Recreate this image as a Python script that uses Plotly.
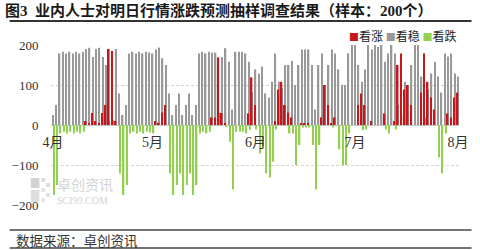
import plotly.graph_objects as go
import pandas as pd

# ---- data (one value per calendar day, 2023-04-01 .. 2023-08-01) ----
dates = pd.date_range("2023-04-01", periods=123, freq="D")

kan_wen = [  # 看稳 (gray)
    25, 50, 179, 183, 179, 183, 179, 183, 179, 183,
    190, 193, 170, 190, 193, 170, 150, 10, 12, 190,
    79, 25, 50, 179, 183, 179, 183, 179, 183, 181,
    179, 189, 194, 167, 150, 79, 25, 50, 79, 25,
    50, 79, 25, 50, 179, 183, 179, 183, 181, 181,
    31, 170, 192, 158, 39, 183, 183, 183, 179, 158,
    81, 139, 129, 146, 79, 69, 108, 179, 108, 92,
    150, 150, 160, 100, 150, 189, 189, 189, 150, 39,
    150, 179, 100, 150, 189, 179, 139, 100, 100, 179,
    200, 200, 150, 108, 139, 200, 189, 200, 195, 200,
    158, 179, 200, 179, 50, 21, 108, 100, 150, 200,
    200, 121, 19, 89, 129, 158, 121, 81, 179, 171,
    179, 129, 121,
]
kan_zhang = [  # 看涨 (red)
    0, 0, 0, 0, 0, 0, 0, 0, 0, 0,
    10, 5, 30, 10, 5, 30, 50, 190, 185, 10,
    0, 0, 0, 0, 0, 0, 0, 0, 0, 0,
    0, 10, 6, 31, 50, 0, 0, 0, 0, 0,
    0, 0, 0, 0, 0, 0, 0, 0, 19, 19,
    169, 30, 4, 0, 0, 0, 0, 0, 0, 29,
    119, 50, 0, 0, 0, 0, 0, 10, 89, 108,
    50, 31, 19, 0, 0, 4, 4, 4, 0, 0,
    0, 19, 100, 50, 4, 19, 0, 0, 0, 0,
    0, 0, 50, 79, 50, 0, 10, 0, 0, 0,
    29, 0, 0, 10, 150, 179, 89, 100, 50, 0,
    0, 81, 179, 108, 69, 39, 0, 0, 0, 29,
    19, 69, 81,
]
kan_die = [  # 看跌 (green, negative)
    -175, -150, -21, -17, -21, -17, -21, -17, -21, -17,
    0, 0, 0, 0, 0, 0, 0, 0, 0, 0,
    -121, -175, -150, -21, -17, -21, -17, -21, -17, -19,
    -21, 0, 0, 0, 0, -121, -175, -150, -121, -175,
    -150, -121, -175, -150, -21, -17, -21, -17, 0, 0,
    0, 0, -5, -42, -161, -17, -17, -17, -21, -12,
    0, -11, -71, -54, -121, -131, -92, -11, 0, 0,
    0, -21, -21, -100, -50, -6, -6, -6, -50, -161,
    -50, 0, 0, 0, -6, 0, -61, -100, -100, -21,
    0, 0, 0, -13, -11, 0, 0, 0, 0, 0,
    -11, -21, 0, -11, 0, 0, 0, 0, 0, 0,
    0, 0, 0, 0, 0, 0, -81, -121, -21, 0,
    0, 0, 0,
]
month_ticks = ["2023-04-01", "2023-05-01", "2023-06-01", "2023-07-01", "2023-08-01"]
month_labels = ["4月", "5月", "6月", "7月", "8月"]
y_ticks = [-200, -100, 0, 100, 200]

RED = "#C8161D"
GRAY = "#999999"
GREEN = "#92D050"
DAY = 86400000

CJK = "Noto Sans CJK SC"
SERIF = "Liberation Serif, Noto Sans CJK SC"

fig = go.Figure()
fig.add_bar(x=dates, y=kan_wen, name="看稳", marker_color=GRAY, marker_line_width=0,
            width=0.42 * DAY, offset=-0.21 * DAY)
fig.add_bar(x=dates, y=kan_zhang, name="看涨", marker_color=RED, marker_line_width=0,
            width=0.48 * DAY, offset=-0.42 * DAY)
fig.add_bar(x=dates, y=kan_die, name="看跌", marker_color=GREEN, marker_line_width=0,
            width=0.42 * DAY, offset=0.08 * DAY)

L, R, T, B = 43, 13, 45, 45
W, H = 480 - L - R, 250 - T - B


def px(xp):
    return (xp - L) / W


def py(yp):
    return (250 - B - yp) / H


shapes = [
    dict(type="line", xref="paper", yref="paper", x0=px(0), x1=px(480), y0=py(21), y1=py(21),
         line=dict(color="#333333", width=2)),
    dict(type="line", xref="paper", yref="paper", x0=px(0), x1=px(480), y0=py(230), y1=py(230),
         line=dict(color="#444444", width=1.3)),
    dict(type="line", xref="paper", yref="paper", x0=px(0), x1=px(480), y0=py(248), y1=py(248),
         line=dict(color="#444444", width=1.3)),
]
# watermark logo blocks
for (x0, y0, x1, y1, c) in [(22, 178, 31, 188, "#d2d2d2"), (22, 190, 31, 202, "#dedede"),
                            (33, 178, 37, 182, "#dcdcdc"), (38, 183, 42, 187, "#dcdcdc"),
                            (33, 188, 37, 192, "#e2e2e2"), (38, 193, 42, 197, "#e2e2e2"),
                            (33, 198, 37, 202, "#e6e6e6")]:
    shapes.append(dict(type="rect", xref="paper", yref="paper", x0=px(x0), x1=px(x1),
                       y0=py(y0), y1=py(y1), fillcolor=c, line_width=0, layer="below"))

annotations = [
    dict(text="数据来源：卓创资讯", xref="paper", yref="paper", x=px(5), y=py(240),
         xanchor="left", yanchor="middle", showarrow=False,
         font=dict(family=CJK, size=13.5, color="#333333")),
    dict(text=(f'<span style="color:{RED};font-size:10px">■</span>看涨 '
               f'<span style="color:{GRAY};font-size:10px">■</span>看稳 '
               f'<span style="color:{GREEN};font-size:10px">■</span>看跌'),
         xref="paper", yref="paper", x=px(466), y=py(35), xanchor="right", yanchor="middle",
         showarrow=False, font=dict(family=CJK, size=12, color="#222222")),
    dict(text="卓创资讯", xref="paper", yref="paper", x=px(78), y=py(184), showarrow=False,
         xanchor="center", yanchor="middle", height=16, valign="middle",
         font=dict(family=CJK, size=14, color="#d3d3d3")),
    dict(text="SCI99.COM", xref="paper", yref="paper", x=px(76), y=py(200), showarrow=False,
         xanchor="center", yanchor="middle", height=10, valign="middle",
         font=dict(family="Liberation Serif", size=10, color="#d3d3d3")),
]

fig.update_layout(
    width=480, height=250,
    margin=dict(l=L, r=R, t=T, b=B, pad=0),
    paper_bgcolor="white", plot_bgcolor="white",
    barmode="overlay",
    showlegend=False,
    title=dict(text="图3  业内人士对明日行情涨跌预测抽样调查结果（样本：200个）",
               x=5 / 480, xref="container", xanchor="left",
               y=1 - 11 / 250, yref="container", yanchor="middle",
               font=dict(family="Liberation Serif, Noto Sans CJK SC", size=15, color="#1a1a1a",
                         weight="bold")),
    xaxis=dict(type="date",
               range=["2023-03-31 10:00", "2023-08-01 07:00"],
               tickvals=month_ticks, ticktext=month_labels,
               showgrid=False, showline=False, zeroline=False,
               anchor="free", position=0.5,
               ticks="outside", ticklen=4, tickcolor="rgba(0,0,0,0)",
               tickfont=dict(family=SERIF, size=14, color="#333333")),
    yaxis=dict(range=[-200, 200], tickvals=y_ticks,
               showgrid=True, gridcolor="#d4d4d4", griddash="3px,2px", gridwidth=1,
               zeroline=True, zerolinecolor="#c4c4c4", zerolinewidth=1,
               showline=False,
               ticks="outside", ticklen=9, tickcolor="rgba(0,0,0,0)",
               tickfont=dict(family="Liberation Serif", size=13, color="#333333")),
    shapes=shapes,
    annotations=annotations,
)

fig.write_html("out.html")
